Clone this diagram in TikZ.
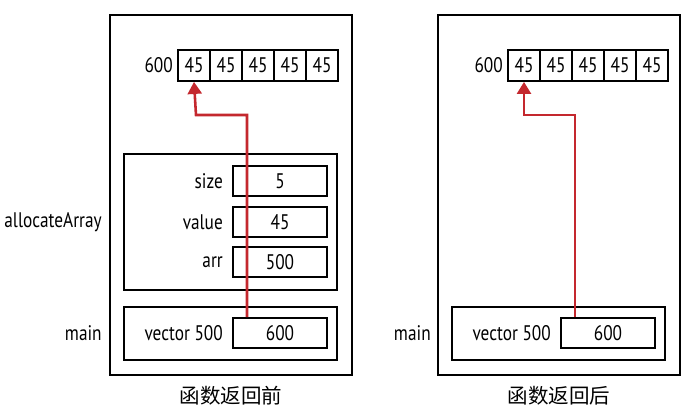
\documentclass[tikz,border=0pt]{standalone}
\usepackage{fontspec}
\setmainfont[FakeStretch=0.82]{PT Sans}
\newfontfamily\cjk{Noto Sans CJK SC}
\usetikzlibrary{arrows.meta, positioning}
\definecolor{ptrred}{RGB}{196,40,46}

\begin{document}
\begin{tikzpicture}[x=0.03cm, y=-0.03cm,
  every node/.style={font=\fontsize{18}{21}\selectfont, inner sep=0pt},
  cell/.style={draw, line width=1.6pt, minimum width=0.96cm, minimum height=0.93cm},
  slot/.style={draw, line width=1.6pt, minimum width=2.82cm, minimum height=0.9cm},
  frame/.style={draw, line width=1.8pt, minimum width=6.39cm},
  panel/.style={draw, line width=2pt, minimum width=7.26cm, minimum height=10.8cm},
  caption/.style={font=\cjk\fontsize{17.5}{20}\selectfont},
  ptr/.style={draw=ptrred, line width=2.2pt, -{Triangle[length=0.36cm, width=0.42cm]}}]
\useasboundingbox (0,0) rectangle (700,419);

% before return
\node[panel] (outerA) at (231,195) {};
\foreach \i in {1,...,5}
  \node[cell] (A\i) at (162+32*\i,65.5) {45};
\node[left=0.12cm of A1] (addrA) {600};
\node[frame, minimum height=4.08cm] (allocA) at (230.5,222) {};
\node[slot] (sizeA) at (280,181) {5};
\node[slot] (valueA) at (280,222) {45};
\node[slot] (arrA) at (280,262) {500};
\node[left=0.27cm of sizeA] {size};
\node[left=0.27cm of valueA] {value};
\node[left=0.27cm of arrA] {arr};
\node[left=0.63cm of allocA] (nameAlloc) {allocateArray};
\node[frame, minimum height=1.59cm] (mainA) at (230.5,333.5) {};
\node[slot] (vecA) at (280,333) {600};
\node[left=0.27cm of vecA] {vector 500};
\node[left=0.63cm of mainA] (nameMainA) {main};
\node[caption, below=0.3cm of outerA] (capA) {函数返回前};
\coordinate (bendA) at (196,115);
\draw[ptr] ([xshift=-0.99cm]vecA.north) |- (bendA) -- (A1.south);

% after return
\node[panel] (outerB) at (559,195) {};
\foreach \i in {1,...,5}
  \node[cell] (B\i) at (492+32*\i,65.5) {45};
\node[left=0.12cm of B1] (addrB) {600};
\node[frame, minimum height=1.59cm] (mainB) at (558.5,333.5) {};
\node[slot] (vecB) at (608,333) {600};
\node[left=0.27cm of vecB] {vector 500};
\node[left=0.6cm of mainB] (nameMainB) {main};
\node[caption, below=0.3cm of outerB] (capB) {函数返回后};
\coordinate (bendB) at (524,115);
\draw[ptr] ([xshift=-0.99cm]vecB.north) |- (bendB) -- (B1.south);
\end{tikzpicture}
\end{document}
